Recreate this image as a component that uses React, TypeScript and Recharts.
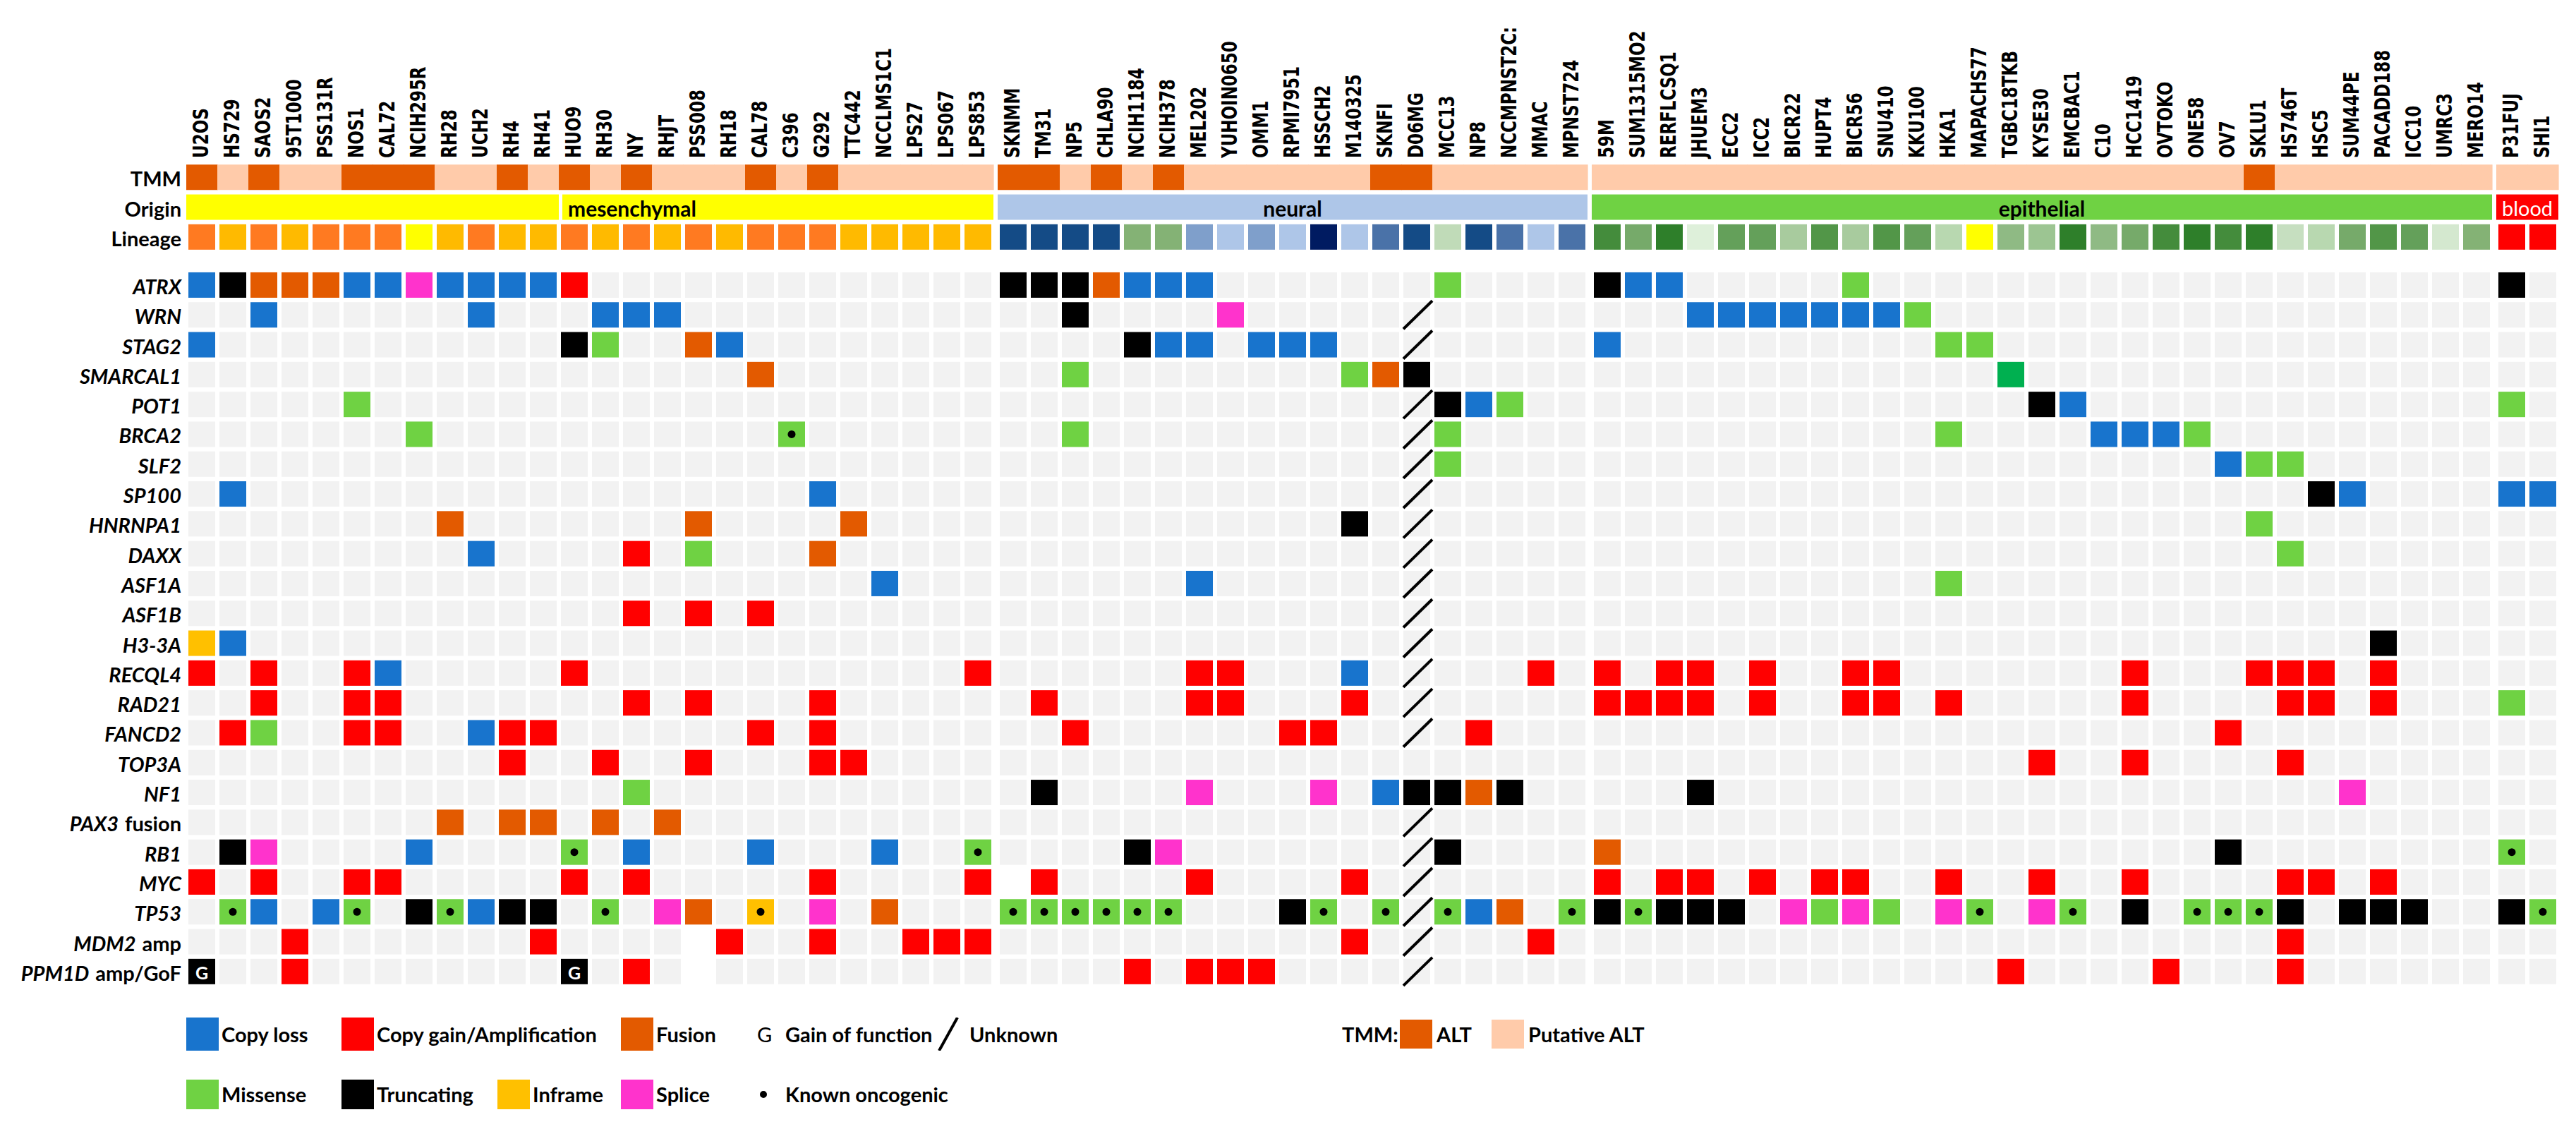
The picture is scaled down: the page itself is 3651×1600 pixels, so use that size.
import React from "react";
import { ScatterChart, Scatter, XAxis, YAxis, Legend } from "recharts";

// cell lines, left to right, by origin
const mesenchymalLines = ["U2OS", "HS729", "SAOS2", "95T1000", "PSS131R", "NOS1", "CAL72", "NCIH295R", "RH28", "UCH2", "RH4", "RH41", "HUO9", "RH30", "NY", "RHJT", "PSS008", "RH18", "CAL78", "C396", "G292", "TTC442", "NCCLMS1C1", "LPS27", "LPS067", "LPS853"];
const neuralLines = ["SKNMM", "TM31", "NP5", "CHLA90", "NCIH1184", "NCIH378", "MEL202", "YUHOIN0650", "OMM1", "RPMI7951", "HSSCH2", "M140325", "SKNFI", "D06MG", "MCC13", "NP8", "NCCMPNST2C:", "MMAC", "MPNST724"];
const epithelialLines = ["59M", "SUM1315MO2", "RERFLCSQ1", "JHUEM3", "ECC2", "ICC2", "BICR22", "HUPT4", "BICR56", "SNU410", "KKU100", "HKA1", "MAPACHS77", "TGBC18TKB", "KYSE30", "EMCBAC1", "C10", "HCC1419", "OVTOKO", "ONE58", "OV7", "SKLU1", "HS746T", "HSC5", "SUM44PE", "PACADD188", "ICC10", "UMRC3", "MERO14"];
const bloodLines = ["P31FUJ", "SHI1"];

const originNames = ["mesenchymal", "neural", "epithelial", "blood"];

// TMM: these are ALT, all others putative ALT
const altLines = ["U2OS", "SAOS2", "NOS1", "CAL72", "NCIH295R", "RH4", "HUO9", "NY", "CAL78", "G292", "SKNMM", "TM31", "CHLA90", "NCIH378", "SKNFI", "D06MG", "SKLU1"];

// one lineage code per column (colours in lineagePalette)
const lineageCodes =
  "OAOAOOOYAOAAOAOAOAOOOAAAAA" + "DDDDggblblnlmDcDmlm" + "123455676758Y903921313h8275ug" + "RR";

const genes = ["ATRX", "WRN", "STAG2", "SMARCAL1", "POT1", "BRCA2", "SLF2", "SP100", "HNRNPA1", "DAXX", "ASF1A", "ASF1B", "H3-3A", "RECQL4", "RAD21", "FANCD2", "TOP3A", "NF1", "PAX3 fusion", "RB1", "MYC", "TP53", "MDM2 amp", "PPM1D amp/GoF"];

// "CELLLINE:code" per gene row
// L copy loss, A gain/amp, F fusion, M missense, m missense+oncogenic, T truncating,
// I inframe, i inframe+oncogenic, S splice, N other missense, G gain of function, U unknown, _ no data
const alterations = [
  "U2OS:L HS729:T SAOS2:F 95T1000:F PSS131R:F NOS1:L CAL72:L NCIH295R:S RH28:L UCH2:L RH4:L RH41:L HUO9:A SKNMM:T TM31:T NP5:T CHLA90:F NCIH1184:L NCIH378:L MEL202:L MCC13:M 59M:T SUM1315MO2:L RERFLCSQ1:L BICR56:M P31FUJ:T",
  "SAOS2:L UCH2:L RH30:L NY:L RHJT:L NP5:T YUHOIN0650:S D06MG:U JHUEM3:L ECC2:L ICC2:L BICR22:L HUPT4:L BICR56:L SNU410:L KKU100:M",
  "U2OS:L HUO9:T RH30:M PSS008:F RH18:L NCIH1184:T NCIH378:L MEL202:L OMM1:L RPMI7951:L HSSCH2:L D06MG:U 59M:L HKA1:M MAPACHS77:M",
  "CAL78:F NP5:M M140325:M SKNFI:F D06MG:T TGBC18TKB:N",
  "NOS1:M D06MG:U MCC13:T NP8:L NCCMPNST2C::M KYSE30:T EMCBAC1:L P31FUJ:M",
  "NCIH295R:M C396:m NP5:M D06MG:U MCC13:M HKA1:M C10:L HCC1419:L OVTOKO:L ONE58:M",
  "D06MG:U MCC13:M OV7:L SKLU1:M HS746T:M",
  "HS729:L G292:L D06MG:U HSC5:T SUM44PE:L P31FUJ:L SHI1:L",
  "RH28:F PSS008:F TTC442:F M140325:T D06MG:U SKLU1:M",
  "UCH2:L NY:A PSS008:M G292:F D06MG:U HS746T:M",
  "NCCLMS1C1:L MEL202:L D06MG:U HKA1:M",
  "NY:A PSS008:A CAL78:A D06MG:U",
  "U2OS:I HS729:L D06MG:U PACADD188:T",
  "U2OS:A SAOS2:A NOS1:A CAL72:L HUO9:A LPS853:A MEL202:A YUHOIN0650:A M140325:L D06MG:U MMAC:A 59M:A RERFLCSQ1:A JHUEM3:A ICC2:A BICR56:A SNU410:A HCC1419:A SKLU1:A HS746T:A HSC5:A PACADD188:A",
  "SAOS2:A NOS1:A CAL72:A NY:A PSS008:A G292:A TM31:A MEL202:A YUHOIN0650:A M140325:A D06MG:U 59M:A SUM1315MO2:A RERFLCSQ1:A JHUEM3:A ICC2:A BICR56:A SNU410:A HKA1:A HCC1419:A HS746T:A HSC5:A PACADD188:A P31FUJ:M",
  "HS729:A SAOS2:M NOS1:A CAL72:A UCH2:L RH4:A RH41:A CAL78:A G292:A NP5:A RPMI7951:A HSSCH2:A D06MG:U NP8:A OV7:A",
  "RH4:A RH30:A PSS008:A G292:A TTC442:A KYSE30:A HCC1419:A HS746T:A",
  "NY:M TM31:T MEL202:S HSSCH2:S SKNFI:L D06MG:T MCC13:T NP8:F NCCMPNST2C::T JHUEM3:T SUM44PE:S",
  "RH28:F RH4:F RH41:F RH30:F RHJT:F D06MG:U",
  "HS729:T SAOS2:S NCIH295R:L HUO9:m NY:L CAL78:L NCCLMS1C1:L LPS853:m NCIH1184:T NCIH378:S D06MG:U MCC13:T 59M:F OV7:T P31FUJ:m",
  "U2OS:A SAOS2:A NOS1:A CAL72:A HUO9:A NY:A G292:A LPS853:A SKNMM:_ TM31:A MEL202:A M140325:A D06MG:U 59M:A RERFLCSQ1:A JHUEM3:A ICC2:A HUPT4:A BICR56:A HKA1:A KYSE30:A HCC1419:A HS746T:A HSC5:A PACADD188:A",
  "HS729:m SAOS2:L PSS131R:L NOS1:m NCIH295R:T RH28:m UCH2:L RH4:T RH41:T RH30:m RHJT:S PSS008:F CAL78:i G292:S NCCLMS1C1:F SKNMM:m TM31:m NP5:m CHLA90:m NCIH1184:m NCIH378:m RPMI7951:T HSSCH2:m SKNFI:m D06MG:U MCC13:m NP8:L NCCMPNST2C::F MPNST724:m 59M:T SUM1315MO2:m RERFLCSQ1:T JHUEM3:T ECC2:T BICR22:S HUPT4:M BICR56:S SNU410:M HKA1:S MAPACHS77:m KYSE30:S EMCBAC1:m HCC1419:T ONE58:m OV7:m SKLU1:m HS746T:T SUM44PE:T PACADD188:T ICC10:T P31FUJ:T SHI1:m",
  "95T1000:A RH41:A PSS008:_ RH18:A G292:A LPS27:A LPS067:A LPS853:A M140325:A D06MG:U MMAC:A HS746T:A",
  "U2OS:G 95T1000:A HUO9:G NY:A PSS008:_ NCIH1184:A MEL202:A YUHOIN0650:A OMM1:A D06MG:U TGBC18TKB:A OVTOKO:A HS746T:A",
];

// ---- styles ----
const alterationColors: Record<string, string> = {
  L: "#1874CD", A: "#FF0000", F: "#E35A00", M: "#6FD243", m: "#6FD243", T: "#000000",
  I: "#FFC000", i: "#FFC000", S: "#FF33CC", N: "#00B050", G: "#000000",
};
const lineagePalette: Record<string, string> = {
  O: "#FF7A21", A: "#FFBA00", Y: "#FFFF00",
  D: "#144B86", g: "#84B275", b: "#7F9FCB", l: "#AEC6E8", n: "#001B61", m: "#4A72A8", c: "#C0DBB8",
  "1": "#448C3C", "2": "#76AA6A", "3": "#2E7F2A", "4": "#DEF0DA", "5": "#64A05A", "6": "#A8CB9E",
  "7": "#529648", "8": "#B8D8B0", "9": "#8FBA84", "0": "#9CC592", h: "#C6DFC0", u: "#D4E8CF", R: "#FF0000",
};
const originColors = ["#FFFF00", "#AEC6E8", "#6FD243", "#FF0000"];
const ALT_COLOR = "#E35A00";
const PUTATIVE_COLOR = "#FFCBAA";
const EMPTY_CELL = "#F2F2F2";
const LABEL_FONT = "Lato, 'Open Sans', sans-serif";

// ---- layout ----
const W = 3651;
const H = 1600;
const Y_AXIS_W = 264;
const X_AXIS_H = 200;
const MARGIN = { top: 13.6, right: 25, bottom: 202, left: 0 };
const GROUP_GAP = 6 / 44;
const CELL_W = 38;
const CELL_H = 36;
const TMM_Y = -3.61;
const ORIGIN_Y = -2.61;
const LINEAGE_Y = -1.61;
const COL_LABEL_BASE = 224;
const ROW_LABEL_RIGHT = 257;

const groupLines = [mesenchymalLines, neuralLines, epithelialLines, bloodLines];
const columns = groupLines
  .flatMap((lines, g) => lines.map((name) => ({ name, group: g })))
  .map((c, i) => ({ ...c, index: i, x: i + c.group * GROUP_GAP }));
const colX = new Map(columns.map((c) => [c.name, c.x]));

const X_MIN = -0.5;
const X_MAX = columns[columns.length - 1].x + 0.5;
const Y_MIN = -4.5;
const Y_MAX = genes.length - 0.5;
const UNIT_X = (W - Y_AXIS_W - MARGIN.left - MARGIN.right) / (X_MAX - X_MIN);

const parsedRows = alterations.map((row) => {
  const m = new Map<string, string>();
  row.split(/\s+/).filter(Boolean).forEach((tok) => {
    const k = tok.lastIndexOf(":");
    m.set(tok.slice(0, k), tok.slice(k + 1));
  });
  return m;
});

const backgroundCells = genes.flatMap((_, r) =>
  columns.filter((c) => parsedRows[r].get(c.name) !== "_").map((c) => ({ x: c.x, y: r }))
);
const alterationCells = parsedRows.flatMap((m, r) =>
  Array.from(m.entries())
    .filter(([name, code]) => code !== "_" && colX.has(name))
    .map(([name, code]) => ({ x: colX.get(name) as number, y: r, code }))
);
const tmmCells = columns.map((c) => ({ x: c.x, y: TMM_Y, alt: altLines.includes(c.name) }));
const lineageCells = columns.map((c, i) => ({ x: c.x, y: LINEAGE_Y, code: lineageCodes[i] }));

// origin bar spans (mesenchymal bar is split in two in the figure)
const originSpans = [
  { label: "", group: 0, from: "U2OS", to: "RH41" },
  { label: "mesenchymal", group: 0, from: "HUO9", to: "LPS853" },
  { label: "neural", group: 1, from: "SKNMM", to: "MPNST724" },
  { label: "epithelial", group: 2, from: "59M", to: "MERO14" },
  { label: "blood", group: 3, from: "P31FUJ", to: "SHI1" },
].map((s) => {
  const a = colX.get(s.from) as number;
  const b = colX.get(s.to) as number;
  const startsGroup = groupLines[s.group][0] === s.from;
  return { ...s, x: (a + b) / 2, y: ORIGIN_Y, span: b - a + 1, startsGroup };
});

const rowTicks = [TMM_Y, ORIGIN_Y, LINEAGE_Y, ...genes.map((_, i) => i)];
const rowTickLabel = (v: number) => {
  if (Math.abs(v - TMM_Y) < 1e-6) return { text: "TMM", gene: false };
  if (Math.abs(v - ORIGIN_Y) < 1e-6) return { text: "Origin", gene: false };
  if (Math.abs(v - LINEAGE_Y) < 1e-6) return { text: "Lineage", gene: false };
  return { text: genes[Math.round(v)] ?? "", gene: true };
};

// ---- shapes ----
const TmmShape = (p: any) => (
  <rect x={p.cx - UNIT_X / 2} y={p.cy - CELL_H / 2} width={UNIT_X + 0.6} height={CELL_H}
    fill={p.payload.alt ? ALT_COLOR : PUTATIVE_COLOR} />
);

const OriginShape = (p: any) => {
  const s = p.payload;
  const inset = s.startsGroup ? 0 : 5;
  const w = s.span * UNIT_X - inset;
  const x0 = p.cx - (s.span * UNIT_X) / 2 + inset;
  const color = originColors[s.group];
  const white = color === "#FF0000";
  return (
    <g>
      <rect x={x0} y={p.cy - CELL_H / 2} width={w} height={CELL_H} fill={color} />
      {s.label && (
        <text x={s.startsGroup ? x0 + w / 2 : x0 + 8} y={p.cy + 1} textAnchor={s.startsGroup ? "middle" : "start"}
          dominantBaseline="central" fontFamily={LABEL_FONT} fontWeight={white ? 400 : 700}
          fontSize={white ? 29 : 30} fill={white ? "#FFFFFF" : "#000000"}>
          {s.label}
        </text>
      )}
    </g>
  );
};

const LineageShape = (p: any) => (
  <rect x={p.cx - CELL_W / 2} y={p.cy - CELL_H / 2} width={CELL_W} height={CELL_H}
    fill={lineagePalette[p.payload.code]} />
);

const EmptyShape = (p: any) => (
  <rect x={p.cx - CELL_W / 2} y={p.cy - CELL_H / 2} width={CELL_W} height={CELL_H} fill={EMPTY_CELL} />
);

const AlterationShape = (p: any) => {
  const code = p.payload.code;
  const x0 = p.cx - CELL_W / 2;
  const y0 = p.cy - CELL_H / 2;
  if (code === "U") {
    return (
      <line x1={x0} y1={y0 + CELL_H + 2} x2={x0 + CELL_W + 3} y2={y0 - 2}
        stroke="#000" strokeWidth={4} />
    );
  }
  if (code === "G") {
    return (
      <g>
        <rect x={x0} y={y0} width={CELL_W} height={CELL_H} fill="#000" />
        <text x={p.cx} y={p.cy + 1} textAnchor="middle" dominantBaseline="central"
          fontFamily={LABEL_FONT} fontWeight={700} fontSize={25} fill="#FFF">G</text>
      </g>
    );
  }
  return (
    <g>
      <rect x={x0} y={y0} width={CELL_W} height={CELL_H} fill={alterationColors[code]} />
      {(code === "m" || code === "i") && <circle cx={p.cx} cy={p.cy} r={5.5} fill="#000" />}
    </g>
  );
};

// ---- axis ticks ----
const ColumnTick = (p: any) => {
  const col = columns.find((c) => Math.abs(c.x - p.payload.value) < 1e-6);
  if (!col) return null;
  return (
    <text transform={`translate(${p.x - 2},${COL_LABEL_BASE}) rotate(-90) scale(1,1.3)`}
      dominantBaseline="central" fontFamily="'DejaVu Sans', Verdana, sans-serif"
      fontWeight="bold" fontSize={23} fill="#000">
      {col.name}
    </text>
  );
};

const RowTick = (p: any) => {
  const { text, gene } = rowTickLabel(p.payload.value);
  const [head, ...rest] = text.split(" ");
  return (
    <text x={ROW_LABEL_RIGHT} y={p.y + 1} textAnchor="end" dominantBaseline="central"
      fontFamily={LABEL_FONT} fontWeight={700} fontSize={29} fill="#000">
      <tspan fontStyle={gene ? "italic" : "normal"}>{head}</tspan>
      {rest.length > 0 && <tspan dx={9}>{rest.join(" ")}</tspan>}
    </text>
  );
};

// ---- legend ----
const legendRow1 = [
  { kind: "box", code: "L", label: "Copy loss" },
  { kind: "box", code: "A", label: "Copy gain/Amplification" },
  { kind: "box", code: "F", label: "Fusion" },
  { kind: "glyph", code: "G", label: "Gain of function" },
  { kind: "slash", code: "U", label: "Unknown" },
];
const legendRow2 = [
  { kind: "box", code: "M", label: "Missense" },
  { kind: "box", code: "T", label: "Truncating" },
  { kind: "box", code: "I", label: "Inframe" },
  { kind: "box", code: "S", label: "Splice" },
  { kind: "dot", code: "m", label: "Known oncogenic" },
];
const tmmLegend = [
  { label: "ALT", alt: true },
  { label: "Putative ALT", alt: false },
];
const ROW1_LEFT = [264, 484, 880, 1073, 1327];
const ROW2_LEFT = [264, 484, 705, 880, 1073];
const ROW_TOP = [22, 110];
const ROW_H = [47, 42];
const TMM_LEFT = [1902, 1984, 2114];

const LegendEntry = ({ item, left, top, h }: any) => {
  const textStyle: React.CSSProperties = {
    position: "absolute", top, height: h, lineHeight: `${h}px`, whiteSpace: "nowrap",
  };
  if (item.kind === "box") {
    return (
      <>
        <div style={{ position: "absolute", left, top, width: 46, height: h, background: alterationColors[item.code] }} />
        <span style={{ ...textStyle, left: left + 50 }}>{item.label}</span>
      </>
    );
  }
  if (item.kind === "glyph") {
    return (
      <>
        <span style={{ ...textStyle, left, fontWeight: 400 }}>G</span>
        <span style={{ ...textStyle, left: left + 40 }}>{item.label}</span>
      </>
    );
  }
  if (item.kind === "slash") {
    return (
      <>
        <svg style={{ position: "absolute", left, top, width: 40, height: h }}>
          <line x1={4} y1={h} x2={30} y2={0} stroke="#000" strokeWidth={4} />
        </svg>
        <span style={{ ...textStyle, left: left + 47 }}>{item.label}</span>
      </>
    );
  }
  return (
    <>
      <div style={{ position: "absolute", left: left + 4, top: top + h / 2 - 5, width: 10, height: 10, borderRadius: 5, background: "#000" }} />
      <span style={{ ...textStyle, left: left + 40 }}>{item.label}</span>
    </>
  );
};

const renderLegend = () => (
  <div style={{ position: "relative", width: W, height: 180, fontFamily: LABEL_FONT, fontWeight: 700, fontSize: 29, color: "#000", textAlign: "left" }}>
    {legendRow1.map((it, i) => (
      <LegendEntry key={`a${i}`} item={it} left={ROW1_LEFT[i]} top={ROW_TOP[0]} h={ROW_H[0]} />
    ))}
    {legendRow2.map((it, i) => (
      <LegendEntry key={`b${i}`} item={it} left={ROW2_LEFT[i]} top={ROW_TOP[1]} h={ROW_H[1]} />
    ))}
    <span style={{ position: "absolute", left: TMM_LEFT[0], top: ROW_TOP[0], height: ROW_H[0], lineHeight: `${ROW_H[0]}px` }}>TMM:</span>
    {tmmLegend.map((t, i) => (
      <React.Fragment key={t.label}>
        <div style={{ position: "absolute", left: TMM_LEFT[i + 1], top: ROW_TOP[0] + 3, width: 46, height: 41, background: t.alt ? ALT_COLOR : PUTATIVE_COLOR }} />
        <span style={{ position: "absolute", left: TMM_LEFT[i + 1] + 52, top: ROW_TOP[0], height: ROW_H[0], lineHeight: `${ROW_H[0]}px`, whiteSpace: "nowrap" }}>{t.label}</span>
      </React.Fragment>
    ))}
  </div>
);

export default function App() {
  return (
    <div style={{ position: "absolute", left: 0, top: 0, width: W, height: H, background: "#FFFFFF" }}>
      <ScatterChart width={W} height={H} margin={MARGIN}>
        <XAxis type="number" dataKey="x" orientation="top" height={X_AXIS_H} domain={[X_MIN, X_MAX]}
          ticks={columns.map((c) => c.x)} interval={0} tick={ColumnTick} axisLine={false} tickLine={false} />
        <YAxis type="number" dataKey="y" width={Y_AXIS_W} domain={[Y_MIN, Y_MAX]} reversed
          ticks={rowTicks} interval={0} tick={RowTick} axisLine={false} tickLine={false} />
        <Scatter name="TMM" data={tmmCells} shape={TmmShape} isAnimationActive={false} />
        <Scatter name="Origin" data={originSpans} shape={OriginShape} isAnimationActive={false} />
        <Scatter name="Lineage" data={lineageCells} shape={LineageShape} isAnimationActive={false} />
        <Scatter name="No alteration" data={backgroundCells} shape={EmptyShape} isAnimationActive={false} />
        <Scatter name="Alteration" data={alterationCells} shape={AlterationShape} isAnimationActive={false} />
        <Legend layout="horizontal" verticalAlign="middle" align="center" content={renderLegend}
          wrapperStyle={{ position: "absolute", left: 0, top: 1420, width: W, height: 180, margin: 0, padding: 0 }} />
      </ScatterChart>
    </div>
  );
}
